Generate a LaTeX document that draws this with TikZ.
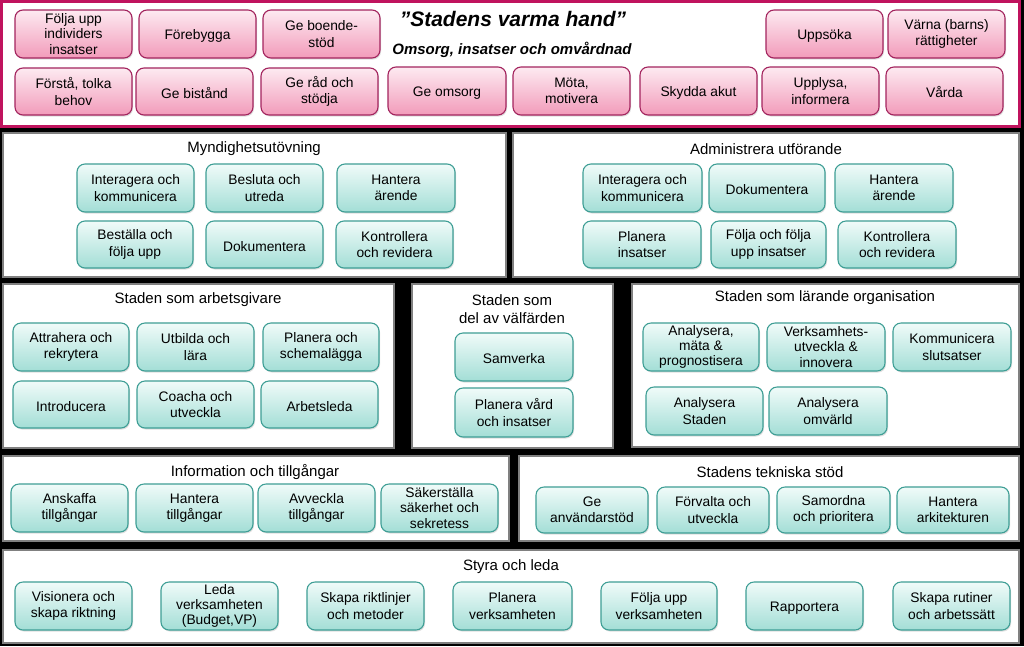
\documentclass[tikz,border=0pt]{standalone}
\usepackage{fontspec}
\setmainfont{Liberation Sans}
\usetikzlibrary{shadows}
\definecolor{pinkborder}{HTML}{A3245E}
\definecolor{pinktop}{HTML}{FDEAF1}
\definecolor{pinkbot}{HTML}{F29BBA}
\definecolor{tealborder}{HTML}{3E9E95}
\definecolor{tealtop}{HTML}{F0FBF9}
\definecolor{tealbot}{HTML}{A3DED6}
\definecolor{magframe}{HTML}{C0135E}
\definecolor{panelborder}{HTML}{808080}
\newcommand\bx[7]{\node[#1, minimum width={(#5-#3)*1pt}, minimum height={(#6-#4)*1pt}] (#2) at ({(#3+#5)/2},{(#4+#6)/2}) {#7};}
\tikzset{
  boxbase/.style={rounded corners=8pt, align=center, inner sep=0pt, line width=1.1pt,
    font=\fontsize{13.8}{16.2}\selectfont,
    execute at begin node={\rule{0pt}{13.6pt}},
    drop shadow={shadow xshift=1pt, shadow yshift=-1.5pt, opacity=0.25}},
  pinkbox/.style={boxbase, draw=pinkborder, top color=pinktop, bottom color=pinkbot},
  tealbox/.style={boxbase, draw=tealborder, top color=tealtop, bottom color=tealbot},
  tight/.style={font=\fontsize{13.8}{15.4}\selectfont},
  panel/.style={draw=panelborder, fill=white, line width=1.4pt, inner sep=0pt},
  topframe/.style={draw=magframe, fill=white, line width=3pt, inner sep=0pt},
  ptitle/.style={font=\fontsize{15}{18}\selectfont, align=center, inner sep=0pt},
}
\begin{document}
\begin{tikzpicture}[x=1pt,y=-1pt]
\useasboundingbox[fill=black] (0,0) rectangle (1024,646);
% top frame
\bx{topframe}{top}{1.5}{1.5}{1019}{126.5}{}
\node[font=\fontsize{21}{24}\selectfont\bfseries\itshape, inner sep=0pt] (tt) at (513,19) {”Stadens varma hand”};
\node[font=\fontsize{15}{18}\selectfont\bfseries\itshape, inner sep=0pt] (st) at (512,50) {Omsorg, insatser och omvårdnad};
\bx{pinkbox,tight}{p1}{15}{10}{132}{58}{Följa upp\\individers\\insatser}
\bx{pinkbox}{p2}{139}{10}{256}{58}{Förebygga}
\bx{pinkbox}{p3}{263}{10}{380}{58}{Ge boende-\\stöd}
\bx{pinkbox}{p4}{766}{10}{883}{58}{Uppsöka}
\bx{pinkbox}{p5}{888}{10}{1005}{58}{Värna (barns)\\rättigheter}
\bx{pinkbox}{p6}{15}{68}{132}{115}{Förstå, tolka\\behov}
\bx{pinkbox}{p7}{136}{68}{253}{115}{Ge bistånd}
\bx{pinkbox}{p8}{261}{68}{378}{115}{Ge råd och\\stödja}
\bx{pinkbox}{p9}{388}{67}{506}{115}{Ge omsorg}
\bx{pinkbox}{p10}{513}{67}{630}{115}{Möta,\\motivera}
\bx{pinkbox}{p11}{640}{67}{757}{115}{Skydda akut}
\bx{pinkbox}{p12}{762}{67}{879}{115}{Upplysa,\\informera}
\bx{pinkbox}{p13}{886}{67}{1003}{115}{Vårda}
% panels
\bx{panel}{pm}{3}{133}{506}{277}{}
\bx{panel}{pa}{513}{133}{1019}{277}{}
\bx{panel}{pg}{3}{284}{394}{448}{}
\bx{panel}{pv}{412}{284}{613}{448}{}
\bx{panel}{pl}{632}{284}{1019}{447}{}
\bx{panel}{pi}{3}{456}{509}{541}{}
\bx{panel}{pt}{519}{456}{1019}{541}{}
\bx{panel}{ps}{3}{550}{1019}{643}{}
% titles
\node[ptitle] (tm) at (254,149) {Myndighetsutövning};
\node[ptitle] (ta) at (766,149) {Administrera utförande};
\node[ptitle] (tg) at (198,300) {Staden som arbetsgivare};
\node[ptitle, font=\fontsize{15}{18.5}\selectfont] (tv) at (512,309) {Staden som\\del av välfärden};
\node[ptitle] (tl) at (825,298) {Staden som lärande organisation};
\node[ptitle] (ti) at (255,472) {Information och tillgångar};
\node[ptitle] (ttk) at (770,472) {Stadens tekniska stöd};
\node[ptitle] (ts) at (511,567) {Styra och leda};
% Myndighetsutovning
\bx{tealbox}{m1}{77}{164}{194}{212}{Interagera och\\kommunicera}
\bx{tealbox}{m2}{206}{164}{323}{212}{Besluta och\\utreda}
\bx{tealbox}{m3}{337}{164}{455}{212}{Hantera\\ärende}
\bx{tealbox}{m4}{77}{221}{193}{268}{Beställa och\\följa upp}
\bx{tealbox}{m5}{206}{221}{323}{268}{Dokumentera}
\bx{tealbox}{m6}{336}{221}{453}{268}{Kontrollera\\och revidera}
% Administrera
\bx{tealbox}{a1}{583}{164}{702}{212}{Interagera och\\kommunicera}
\bx{tealbox}{a2}{709}{164}{825}{212}{Dokumentera}
\bx{tealbox}{a3}{835}{164}{953}{212}{Hantera\\ärende}
\bx{tealbox}{a4}{583}{221}{701}{268}{Planera\\insatser}
\bx{tealbox}{a5}{711}{221}{826}{268}{Följa och följa\\upp insatser}
\bx{tealbox}{a6}{838}{221}{956}{268}{Kontrollera\\och revidera}
% Arbetsgivare
\bx{tealbox}{g1}{13}{323}{129}{371}{Attrahera och\\rekrytera}
\bx{tealbox}{g2}{137}{323}{254}{371}{Utbilda och\\lära}
\bx{tealbox}{g3}{263}{323}{379}{371}{Planera och\\schemalägga}
\bx{tealbox}{g4}{13}{381}{129}{428}{Introducera}
\bx{tealbox}{g5}{137}{381}{254}{428}{Coacha och\\utveckla}
\bx{tealbox}{g6}{261}{381}{378}{428}{Arbetsleda}
% Valfard
\bx{tealbox}{v1}{455}{333}{573}{381}{Samverka}
\bx{tealbox}{v2}{455}{388}{573}{437}{Planera vård\\och insatser}
% Larande
\bx{tealbox,tight}{l1}{643}{323}{759}{371}{Analysera,\\mäta \&\\prognostisera}
\bx{tealbox,tight}{l2}{767}{323}{885}{371}{Verksamhets-\\utveckla \&\\innovera}
\bx{tealbox}{l3}{893}{323}{1011}{371}{Kommunicera\\slutsatser}
\bx{tealbox}{l4}{646}{387}{763}{435}{Analysera\\Staden}
\bx{tealbox}{l5}{769}{387}{887}{435}{Analysera\\omvärld}
% Information
\bx{tealbox}{i1}{11}{484}{128}{532}{Anskaffa\\tillgångar}
\bx{tealbox}{i2}{136}{484}{253}{532}{Hantera\\tillgångar}
\bx{tealbox}{i3}{258}{484}{375}{532}{Avveckla\\tillgångar}
\bx{tealbox,tight}{i4}{381}{484}{498}{532}{Säkerställa\\säkerhet och\\sekretess}
% Teknisk
\bx{tealbox}{t1}{536}{487}{648}{533}{Ge\\användarstöd}
\bx{tealbox}{t2}{657}{487}{769}{533}{Förvalta och\\utveckla}
\bx{tealbox}{t3}{777}{487}{890}{533}{Samordna\\och prioritera}
\bx{tealbox}{t4}{897}{487}{1009}{533}{Hantera\\arkitekturen}
% Styra
\bx{tealbox}{s1}{15}{582}{132}{630}{Visionera och\\skapa riktning}
\bx{tealbox,tight}{s2}{161}{582}{278}{630}{Leda\\verksamheten\\(Budget,VP)}
\bx{tealbox}{s3}{307}{582}{424}{630}{Skapa riktlinjer\\och metoder}
\bx{tealbox}{s4}{453}{582}{572}{630}{Planera\\verksamheten}
\bx{tealbox}{s5}{601}{582}{717}{630}{Följa upp\\verksamheten}
\bx{tealbox}{s6}{746}{582}{863}{630}{Rapportera}
\bx{tealbox}{s7}{893}{582}{1010}{630}{Skapa rutiner\\och arbetssätt}
\end{tikzpicture}
\end{document}
